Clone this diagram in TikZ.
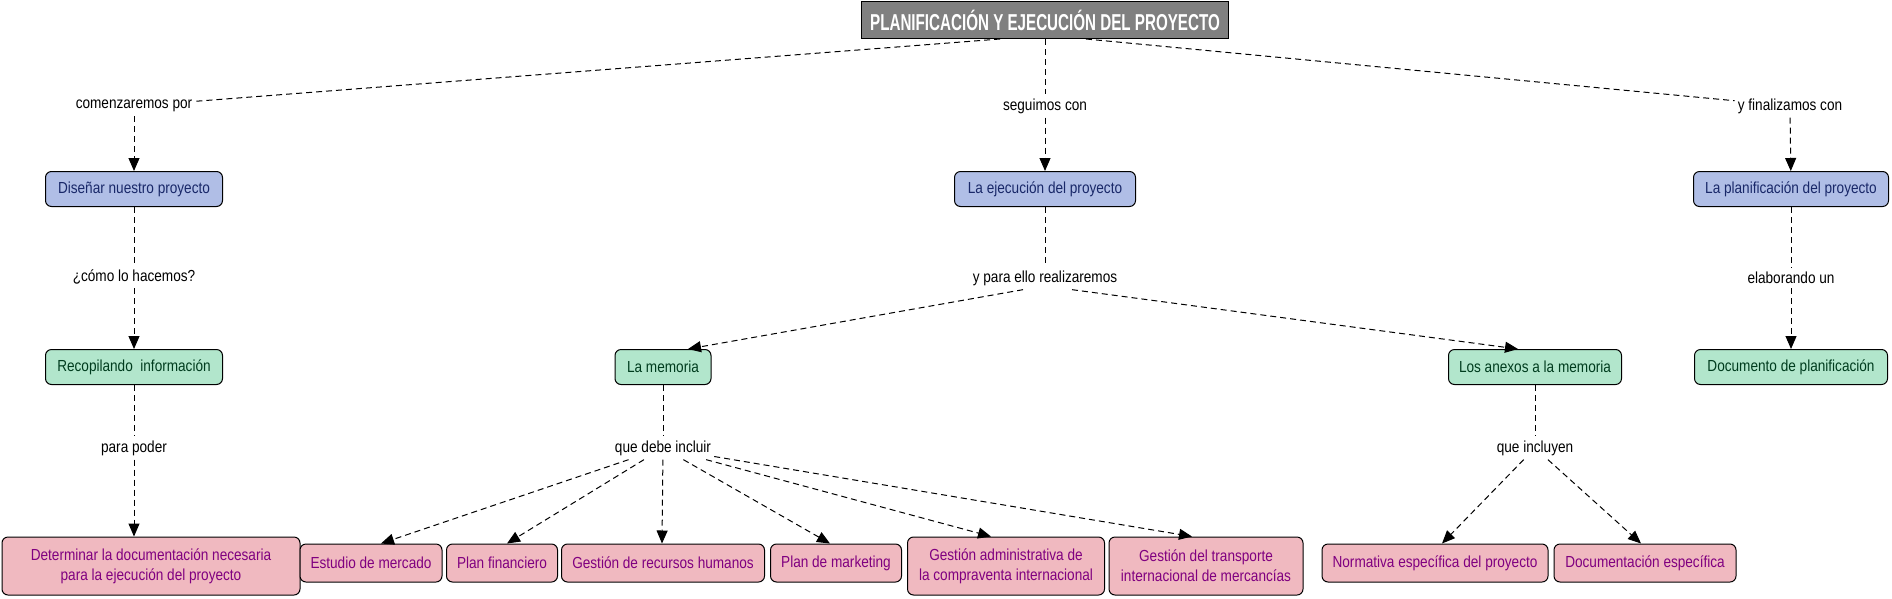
\documentclass[tikz,border=0pt]{standalone}
\usepackage{fontspec}
\setmainfont[FakeStretch=0.85]{Liberation Sans}
\newfontfamily\titlefont[FakeStretch=0.66]{Liberation Sans}
\usetikzlibrary{arrows.meta,calc}
\definecolor{titlegray}{RGB}{128,128,128}
\definecolor{nodeblue}{RGB}{176,190,230}
\definecolor{txtblue}{RGB}{25,40,105}
\definecolor{nodegreen}{RGB}{178,230,204}
\definecolor{txtgreen}{RGB}{0,60,30}
\definecolor{nodepink}{RGB}{240,185,192}
\definecolor{txtpurple}{RGB}{128,0,128}
\begin{document}
\begin{tikzpicture}[x=1pt,y=-1pt,
  box/.style={draw=black, line width=1pt, rounded corners=6pt, inner xsep=4pt, inner ysep=2pt, minimum height=35pt, font=\fontsize{16}{20}\selectfont, align=center},
  bluebox/.style={box, fill=nodeblue, text=txtblue},
  greenbox/.style={box, fill=nodegreen, text=txtgreen},
  pinkbox/.style={box, fill=nodepink, text=txtpurple, minimum height=38pt},
  titlebox/.style={draw=black, line width=1pt, fill=titlegray, text=white, minimum height=37pt, minimum width=367pt, inner xsep=2pt, font=\titlefont\fontsize{23}{26}\selectfont\bfseries},
  lbl/.style={fill=white, inner xsep=3pt, inner ysep=4pt, font=\fontsize{16}{20}\selectfont},
  conn/.style={dash pattern=on 6pt off 4pt, line width=1pt},
  arr/.style={conn, -{Triangle[length=13pt,width=11pt]}}
]
\useasboundingbox (0,0) rectangle (1892,598);

% title
\node[titlebox] (title) at (1045,20) {PLANIFICACIÓN Y EJECUCIÓN DEL PROYECTO};
\coordinate (tl) at ($(title.south)+(-45,0)$);
\coordinate (tr) at ($(title.south)+(41,0)$);

% linking labels
\node[lbl] (l1) at (134,106) {comenzaremos por};
\node[lbl] (l2) at (1045,106) {seguimos con};
\node[lbl] (l3) at (1790,106) {y finalizamos con};
\node[lbl] (l4) at (134,277) {¿cómo lo hacemos?};
\node[lbl] (l5) at (1045,278) {y para ello realizaremos};
\node[lbl] (l6) at (1791,278) {elaborando un};
\node[lbl] (l7) at (134,448) {para poder};
\node[lbl] (l8) at (663,448) {que debe incluir};
\node[lbl] (l9) at (1535,448) {que incluyen};

% concept nodes
\node[bluebox, minimum width=177pt] (dis) at (134,189) {Diseñar nuestro proyecto};
\node[bluebox, minimum width=181pt] (eje) at (1045,189) {La ejecución del proyecto};
\node[bluebox, minimum width=195pt] (pla) at (1791,189) {La planificación del proyecto};

\node[greenbox, minimum width=177pt] (rec) at (134,367) {Recopilando~ información};
\node[greenbox, minimum width=96pt] (mem) at (663,367) {La memoria};
\node[greenbox, minimum width=173pt] (anx) at (1535,367) {Los anexos a la memoria};
\node[greenbox, minimum width=193pt] (doc) at (1791,367) {Documento de planificación};

\node[pinkbox, minimum width=298pt, minimum height=58pt] (det) at (151,566) {Determinar la documentación necesaria\\para la ejecución del proyecto};
\node[pinkbox, minimum width=142pt] (est) at (371,563) {Estudio de mercado};
\node[pinkbox, minimum width=111pt] (pfi) at (502,563) {Plan financiero};
\node[pinkbox, minimum width=203pt] (rrh) at (663,563) {Gestión de recursos humanos};
\node[pinkbox, minimum width=131pt] (pmk) at (836,563) {Plan de marketing};
\node[pinkbox, minimum width=197pt, minimum height=58pt] (adm) at (1006,566) {Gestión administrativa de\\la compraventa internacional};
\node[pinkbox, minimum width=194pt, minimum height=58pt] (tra) at (1206,566) {Gestión del transporte\\internacional de mercancías};
\node[pinkbox, minimum width=226pt] (nor) at (1435,563) {Normativa específica del proyecto};
\node[pinkbox, minimum width=182pt] (dce) at (1645,563) {Documentación específica};

% connectors
\draw[conn] (tl) -- (l1);
\draw[conn] (title) -- (l2);
\draw[conn] (tr) -- (l3);
\draw[arr] (l1) -- (dis);
\draw[arr] (l2) -- (eje);
\draw[arr] (l3) -- (pla);

\draw[conn] (dis) -- (l4);
\draw[arr] (l4) -- (rec);
\draw[conn] (rec) -- (l7);
\draw[arr] (l7) -- (l7 |- det.north);

\draw[conn] (eje) -- (l5);
\draw[arr] ($(l5.south)+(-22,0)$) -- ($(mem.north)+(25,0)$);
\draw[arr] ($(l5.south)+(27,0)$) -- ($(anx.north)+(-17,0)$);

\draw[conn] (pla) -- (l6);
\draw[arr] (l6) -- (doc);

\draw[conn] (mem) -- (l8);
\draw[arr] (l8) -- ($(est.north)+(10,0)$);
\draw[arr] (l8) -- ($(pfi.north)+(5,0)$);
\draw[arr] (l8) -- ($(rrh.north)+(-1,0)$);
\draw[arr] (l8) -- ($(pmk.north)+(-6,0)$);
\draw[arr] (l8) -- ($(adm.north)+(-15,0)$);
\draw[arr] (l8) -- ($(tra.north)+(-14,0)$);

\draw[conn] (anx) -- (l9);
\draw[arr] (l9) -- ($(nor.north)+(7,0)$);
\draw[arr] (l9) -- ($(dce.north)+(-4,0)$);
\end{tikzpicture}
\end{document}
